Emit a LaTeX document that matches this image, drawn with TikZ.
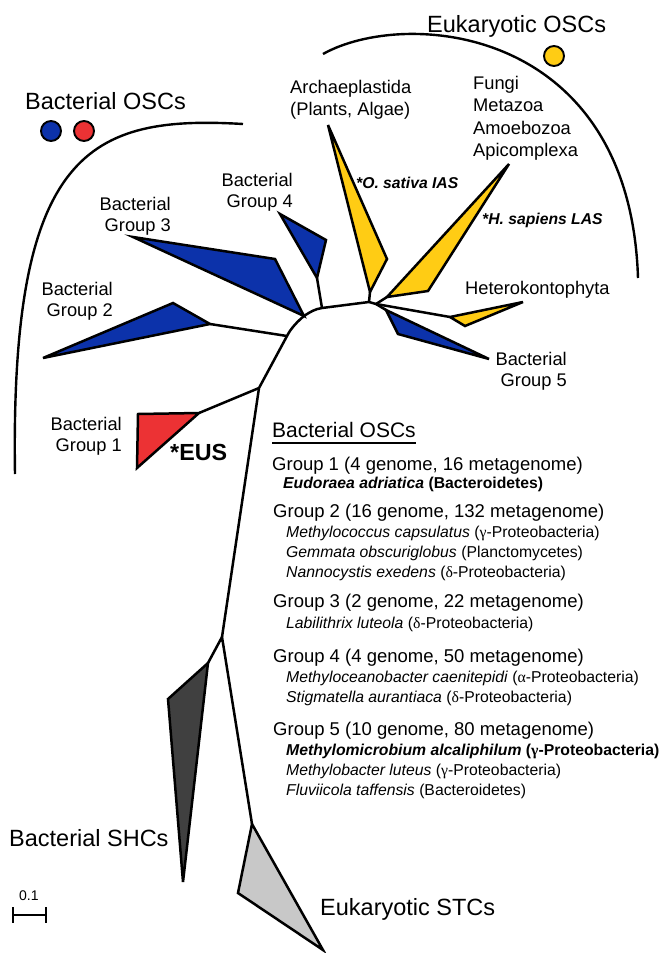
\documentclass[tikz,border=0pt]{standalone}
\usepackage{fontspec}
\setmainfont{Liberation Sans}
\newfontfamily\grk{Liberation Serif}
\definecolor{oscblue}{RGB}{12,50,170}
\definecolor{oscred}{RGB}{236,50,52}
\definecolor{oscyel}{RGB}{255,204,20}
\definecolor{shcgray}{RGB}{64,64,64}
\definecolor{stcgray}{RGB}{200,200,200}
\tikzset{
  br/.style={line width=2.5pt},
  arcline/.style={line width=2.4pt},
  clade/.style={draw=black, line width=2.5pt},
  dot/.style={circle, draw=black, line width=1.9pt, minimum size=20pt, inner sep=0pt},
  title/.style={inner sep=0pt, anchor=base west, font=\fontsize{23.5}{28}\selectfont},
  grp/.style={inner sep=0pt, anchor=base east, font=\fontsize{18.3}{21}\selectfont},
  lab/.style={inner sep=0pt, anchor=base west, font=\fontsize{18.3}{22}\selectfont},
  star/.style={inner sep=0pt, anchor=base west, font=\fontsize{15.7}{18}\selectfont\bfseries\itshape},
  hd/.style={inner sep=0pt, anchor=base west, font=\fontsize{21}{25}\selectfont},
  ghd/.style={inner sep=0pt, anchor=base west, font=\fontsize{18.5}{22}\selectfont},
  sub/.style={inner sep=0pt, anchor=base west, font=\fontsize{15.75}{19}\selectfont},
}
\begin{document}
\begin{tikzpicture}[x=1pt,y=-1pt]
\useasboundingbox (0,0) rectangle (665,953);

% enclosing arcs
\draw[arcline] (15,474) .. controls (10,150) and (90,115) .. (243,124);
\draw[arcline] (323,54) .. controls (405,8) and (630,25) .. (638,278);

% tree coordinates
\coordinate (jSTC) at (252,824);
\coordinate (jB) at (222,637);
\coordinate (jSHC) at (208,663);
\coordinate (j1) at (259,388);
\coordinate (j2) at (287,336);
\coordinate (j3) at (304,316);
\coordinate (j4) at (322,308);
\coordinate (jA) at (369,302);
\coordinate (jR) at (376,304);
\coordinate (g1s) at (199,413);
\coordinate (g2s) at (210,324);
\coordinate (g4s) at (317,278);
\coordinate (aS) at (370,292);
\coordinate (apS) at (387,297);
\coordinate (hS) at (450,317);
\coordinate (g5s) at (386,310);

% branches
\draw[br] (jSTC) -- (jB) -- (jSHC);
\draw[br] (jB) -- (j1) -- (j2) .. controls (291,328) and (298,321) .. (j3)
          .. controls (310,312) and (315,309) .. (j4) -- (jA) -- (jR);
\draw[br] (j1) -- (g1s);
\draw[br] (j2) -- (g2s);
\draw[br] (j4) -- (g4s);
\draw[br] (jA) -- (aS);
\draw[br] (jR) -- (apS);
\draw[br] (jR) -- (hS);
\draw[br] (jR) -- (g5s);

% clades
\draw[clade, fill=oscred]  (g1s) -- (138,414) -- (137,468) -- cycle;
\draw[clade, fill=oscblue] (g2s) -- (173,303) -- (43,358) -- cycle;
\draw[clade, fill=oscblue] (j3) -- (275,259) -- (133,237) -- cycle;
\draw[clade, fill=oscblue] (g4s) -- (326,240) -- (280,214) -- cycle;
\draw[clade, fill=oscyel]  (aS) -- (387,259) -- (328,125) -- cycle;
\draw[clade, fill=oscyel]  (apS) -- (428,291) -- (509,164) -- cycle;
\draw[clade, fill=oscyel]  (hS) -- (465,326) -- (523,302) -- cycle;
\draw[clade, fill=oscblue] (g5s) -- (398,334) -- (489,359) -- cycle;
\draw[clade, fill=shcgray] (jSHC) -- (168,699) -- (183,882) -- cycle;
\draw[clade, fill=stcgray] (jSTC) -- (238,893) -- (323,950) -- cycle;

% legend dots
\node[dot, fill=oscblue] (cblue) at (51,131) {};
\node[dot, fill=oscred] (cred) at (84,131) {};
\node[dot, fill=oscyel] (cyel) at (554,56) {};

% titles
\node[title] (tbac) at (25,109) {Bacterial OSCs};
\node[title] (teuk) at (427,32) {Eukaryotic OSCs};
\node[title] (tshc) at (9,846) {Bacterial SHCs};
\node[title] (tstc) at (320,915) {Eukaryotic STCs};

% clade labels
\node[grp] (l1) at (122,430) {\begin{tabular}[t]{@{}r@{}}Bacterial\\Group 1\end{tabular}};
\node[grp] (l2) at (113,295) {\begin{tabular}[t]{@{}r@{}}Bacterial\\Group 2\end{tabular}};
\node[grp] (l3) at (171,210) {\begin{tabular}[t]{@{}r@{}}Bacterial\\Group 3\end{tabular}};
\node[grp] (l4) at (293,186) {\begin{tabular}[t]{@{}r@{}}Bacterial\\Group 4\end{tabular}};
\node[grp] (l5) at (567,365) {\begin{tabular}[t]{@{}r@{}}Bacterial\\Group 5\end{tabular}};
\node[lab] (arch) at (290,93) {\begin{tabular}[t]{@{}l@{}}Archaeplastida\\(Plants, Algae)\end{tabular}};
\node[lab, font=\fontsize{18.3}{22.5}\selectfont] (fungi) at (473,89) {\begin{tabular}[t]{@{}l@{}}Fungi\\Metazoa\\Amoebozoa\\Apicomplexa\end{tabular}};
\node[lab] (het) at (465,294) {Heterokontophyta};
\node[inner sep=0pt, anchor=base west, font=\fontsize{23.3}{28}\selectfont\bfseries] (eus) at (170,460) {*EUS};
\node[star] (osat) at (356,188) {*O. sativa IAS};
\node[star] (hsap) at (482,224) {*H. sapiens LAS};

% scale bar
\node[inner sep=0pt, anchor=base west, font=\fontsize{14}{16}\selectfont] (sc) at (19,900) {0.1};
\coordinate (sbl) at (13,915);
\coordinate (sbr) at (46,915);
\draw[line width=2.4pt] (sbl) -- (sbr);
\draw[line width=2.4pt] ([yshift=8pt]sbl) -- ([yshift=-8pt]sbl);
\draw[line width=2.4pt] ([yshift=8pt]sbr) -- ([yshift=-8pt]sbr);

% legend block
\node[hd] (hd) at (272,437) {Bacterial OSCs};
\draw[line width=2.2pt] ([yshift=-6pt]hd.base west) -- ([yshift=-6pt]hd.base east);
\node[ghd] (h1) at (272,470) {Group 1 (4 genome, 16 metagenome)};
\node[sub] (s11) at (283,488) {\bfseries\textit{Eudoraea adriatica} (Bacteroidetes)};
\node[ghd] (h2) at (273,517) {Group 2 (16 genome, 132 metagenome)};
\node[sub] (s21) at (286,537) {\textit{Methylococcus capsulatus} ({\grk γ}-Proteobacteria)};
\node[sub] (s22) at (286,557) {\textit{Gemmata obscuriglobus} (Planctomycetes)};
\node[sub] (s23) at (286,577) {\textit{Nannocystis exedens} ({\grk δ}-Proteobacteria)};
\node[ghd] (h3) at (273,607) {Group 3 (2 genome, 22 metagenome)};
\node[sub] (s31) at (286,628) {\textit{Labilithrix luteola} ({\grk δ}-Proteobacteria)};
\node[ghd] (h4) at (273,662) {Group 4 (4 genome, 50 metagenome)};
\node[sub] (s41) at (286,682) {\textit{Methyloceanobacter caenitepidi} ({\grk α}-Proteobacteria)};
\node[sub] (s42) at (286,702) {\textit{Stigmatella aurantiaca} ({\grk δ}-Proteobacteria)};
\node[ghd] (h5) at (273,735) {Group 5 (10 genome, 80 metagenome)};
\node[sub] (s51) at (286,755) {\bfseries\textit{Methylomicrobium alcaliphilum} ({\grk γ}-Proteobacteria)};
\node[sub] (s52) at (286,775) {\textit{Methylobacter luteus} ({\grk γ}-Proteobacteria)};
\node[sub] (s53) at (286,795) {\textit{Fluviicola taffensis} (Bacteroidetes)};
\end{tikzpicture}
\end{document}
